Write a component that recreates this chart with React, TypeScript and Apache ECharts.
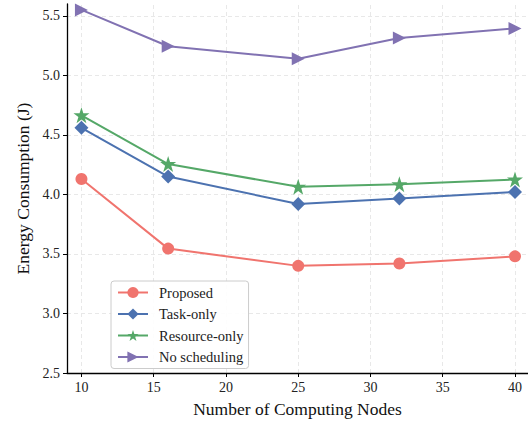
import React, { useEffect, useRef } from "react";
import * as echarts from "echarts";

const nodes = [10, 16, 25, 32, 40];
const proposed = [4.13, 3.545, 3.4, 3.42, 3.48];
const taskOnly = [4.56, 4.15, 3.92, 3.965, 4.02];
const resourceOnly = [4.665, 4.255, 4.065, 4.085, 4.125];
const noScheduling = [5.55, 5.245, 5.14, 5.315, 5.395];
const xTicks = [10, 15, 20, 25, 30, 35, 40];
const yTicks = [2.5, 3.0, 3.5, 4.0, 4.5, 5.0, 5.5];

const FONT = "Liberation Serif";

export default function App() {
  const ref = useRef<HTMLDivElement>(null);
  useEffect(() => {
    if (!ref.current) return;
    const chart = echarts.init(ref.current, undefined, { renderer: "svg" });
    const mk = (name: string, data: number[], color: string, symbol: string, size: number, rotate = 0, extra: any = {}) => ({
      name,
      type: "line",
      data: nodes.map((n, i) => [n, data[i]]),
      symbol,
      symbolSize: size,
      symbolRotate: rotate,
      showAllSymbol: true,
      clip: false,
      lineStyle: { color, width: 2 },
      itemStyle: { color },
      emphasis: { disabled: true },
      z: 3,
      ...extra,
    });
    const gridStyle = { color: "#e8e8e8", type: [4, 3] as any, width: 1 };
    chart.setOption({
      animation: false,
      textStyle: { fontFamily: FONT },
      grid: { left: 67, right: 0, top: 4, bottom: 49, containLabel: false },
      xAxis: {
        type: "value",
        min: 9,
        max: 40.9,
        name: "Number of Computing Nodes",
        nameLocation: "middle",
        nameGap: 27,
        nameTextStyle: { fontFamily: FONT, fontSize: 17.5, color: "#111" },
        axisLine: { lineStyle: { color: "#000", width: 1.3 } },
        axisTick: { show: true, length: 4, customValues: xTicks, lineStyle: { color: "#000" } },
        axisLabel: { customValues: xTicks, fontFamily: FONT, fontSize: 14, color: "#222", margin: 7 },
        splitLine: { show: false },
      },
      yAxis: {
        type: "value",
        min: 2.5,
        max: 5.6,
        name: "Energy Consumption (J)",
        nameLocation: "middle",
        nameGap: 35,
        nameTextStyle: { fontFamily: FONT, fontSize: 17.5, color: "#111" },
        axisLine: { show: true, lineStyle: { color: "#000", width: 1.3 } },
        axisTick: { show: true, length: 4, customValues: yTicks, lineStyle: { color: "#000" } },
        axisLabel: {
          customValues: yTicks,
          fontFamily: FONT,
          fontSize: 14,
          color: "#222",
          margin: 7,
          formatter: (v: number) => v.toFixed(1),
        },
        splitLine: { show: false },
      },
      legend: {
        left: 111,
        top: 281,
        orient: "vertical",
        itemWidth: 30,
        itemHeight: 14,
        itemGap: 6.5,
        padding: [4, 5, 4, 6],
        borderColor: "#cccccc",
        borderWidth: 1,
        borderRadius: 3,
        backgroundColor: "rgba(255,255,255,0.9)",
        textStyle: { fontFamily: FONT, fontSize: 14.5, color: "#222", padding: [0, 0, 0, 6] },
        data: ["Proposed", "Task-only", "Resource-only", "No scheduling"],
      },
      series: [
        mk("Proposed", proposed, "#F0746E", "circle", 12, 0, {
          markLine: {
            silent: true,
            symbol: "none",
            label: { show: false },
            lineStyle: gridStyle,
            z: 0,
            data: [
              ...xTicks.map((v) => ({ xAxis: v })),
              ...yTicks.slice(1).map((v) => ({ yAxis: v })),
            ],
          },
        }),
        mk("Task-only", taskOnly, "#4C72B0", "diamond", 14),
        mk("Resource-only", resourceOnly, "#55A868", "path://M50,0 L61.8,35.4 L100,35.4 L69.1,57.3 L80.9,95.1 L50,72.4 L19.1,95.1 L30.9,57.3 L0,35.4 L38.2,35.4 Z", 16),
        mk("No scheduling", noScheduling, "#8172B2", "triangle", 13, -90),
      ],
    });
    return () => chart.dispose();
  }, []);
  return <div ref={ref} style={{ position: "absolute", left: 0, top: 0, width: 528, height: 423 }} />;
}
